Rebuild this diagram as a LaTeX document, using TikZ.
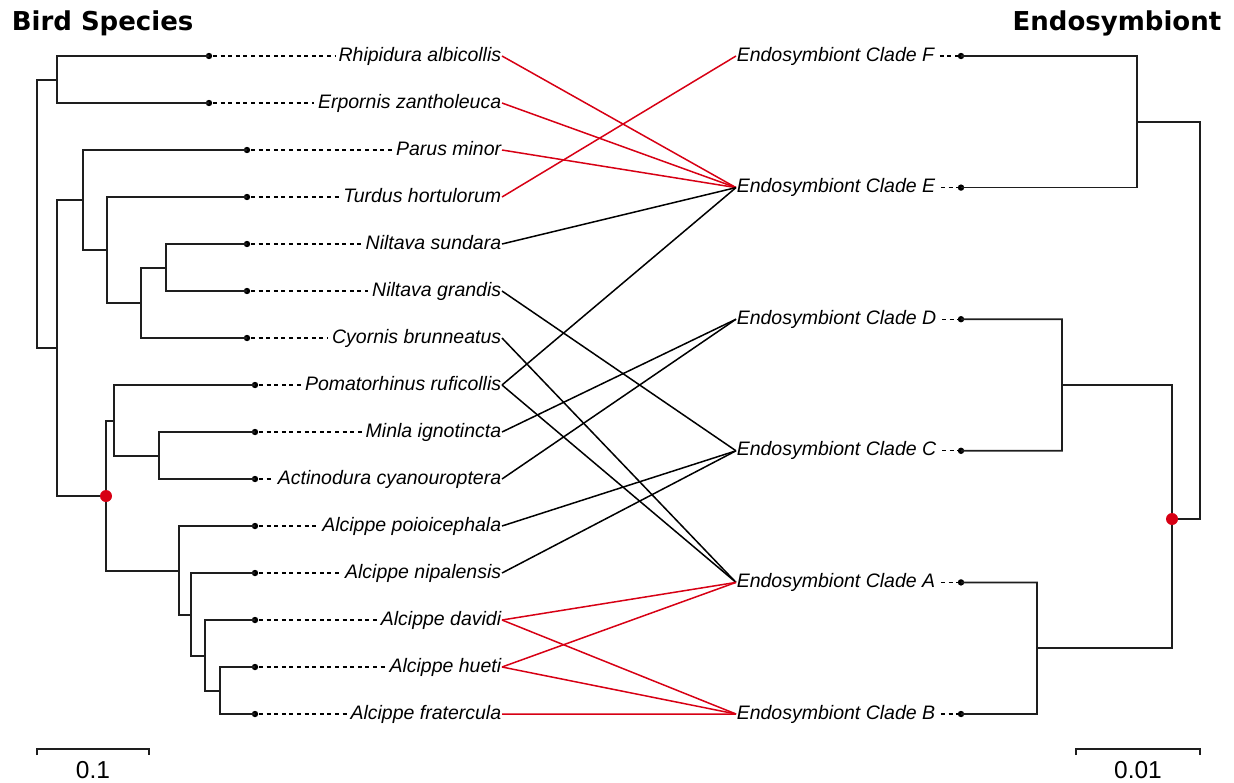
\documentclass[tikz,border=0pt]{standalone}
\usepackage{fontspec}
\setmainfont{Liberation Sans}
\newfontfamily\titlefont{DejaVu Sans}
\usetikzlibrary{positioning}
\definecolor{linkred}{RGB}{215,0,20}
\definecolor{treegray}{RGB}{30,30,30}

\begin{document}
\begin{tikzpicture}[x=1pt,y=-1pt,line width=1.6pt]

	\tikzset{bird lab/.style={anchor=east, inner sep=0pt,
			text height=10pt, text depth=0pt,
			font=\fontsize{19.5}{22}\selectfont\itshape}}
	\tikzset{clade lab/.style={anchor=west, inner sep=0pt,
			text height=10pt, text depth=0pt,
			font=\fontsize{19.5}{22}\selectfont\itshape}}
	\tikzset{title lab/.style={inner sep=0pt,
			font=\titlefont\bfseries\fontsize{26}{30}\selectfont}}
	\tikzset{scale lab/.style={anchor=base, inner sep=0pt,
			font=\fontsize{24.5}{28}\selectfont}}
	\tikzset{tree line/.style={draw=treegray, line width=1.7pt}}
	\tikzset{dot line/.style={draw=black, line width=1.3pt,
			dash pattern=on 4pt off 3.6pt, shorten >=3pt, shorten <=4pt}}
	\tikzset{link/.style={line width=1.5pt}}

	\useasboundingbox (0,0) rectangle (1234,782);

	% titles
	\node[title lab, anchor=base west] (birdT) at (11,30) {Bird Species};
	\node[title lab, anchor=base east] (endoT) at (1222,30) {Endosymbiont};

	% bird species tips and labels
	\foreach \nm/\tx/\txt [count=\i from 0] in {
		rhip/209/Rhipidura albicollis, erp/209/Erpornis zantholeuca,
		parus/247/Parus minor, turd/247/Turdus hortulorum,
		nsun/247/Niltava sundara, ngra/247/Niltava grandis,
		cyor/247/Cyornis brunneatus, pomat/255/Pomatorhinus ruficollis,
		minla/255/Minla ignotincta, actin/255/Actinodura cyanouroptera,
		apoio/255/Alcippe poioicephala, anip/255/Alcippe nipalensis,
		adav/255/Alcippe davidi, ahue/255/Alcippe hueti,
		afra/255/Alcippe fratercula}{
		\coordinate (t\nm) at (\tx,56+47*\i);
		\node[bird lab] (\nm) at (502,56+47*\i) {\txt};
		\draw[dot line] (t\nm) -- (\nm.west);
		\fill (t\nm) circle (3.2pt);
	}

	% endosymbiont tips and labels
	\foreach \nm/\txt [count=\k from 0] in {cF/F, cE/E, cD/D, cC/C, cA/A, cB/B}{
		\coordinate (t\nm) at (961,56+131.6*\k);
		\node[clade lab] (\nm) at (736,56+131.6*\k) {Endosymbiont Clade \txt};
		\draw[dot line, shorten <=5pt] (\nm.east) -- (t\nm);
		\fill (t\nm) circle (3.2pt);
	}

	% bird tree
	\draw[tree line] (trhip) -| (57,103) -- (terp);
	\draw[tree line] (57,80) -| (37,348) -- (57,348);
	\draw[tree line] (83,200) -| (57,496) -- (106,496);
	\draw[tree line] (tparus) -| (83,250) -- (107,250);
	\draw[tree line] (tturd) -| (107,303) -- (141,303);
	\draw[tree line] (166,268) -| (141,338) -- (tcyor);
	\draw[tree line] (tnsun) -| (166,291) -- (tngra);
	\draw[tree line] (114,421) -| (106,571) -- (179,571);
	\draw[tree line] (tpomat) -| (114,456) -- (159,456);
	\draw[tree line] (tminla) -| (159,479) -- (tactin);
	\draw[tree line] (tapoio) -| (179,615) -- (191,615);
	\draw[tree line] (tanip) -| (191,656) -- (205,656);
	\draw[tree line] (tadav) -| (205,691) -- (220,691);
	\draw[tree line] (tahue) -| (220,714) -- (tafra);
	\fill[linkred] (106,496) circle (6pt);

	% endosymbiont tree
	\draw[tree line] (tcF) -| (1137,187.6) -- (tcE);
	\draw[tree line] (1137,122) -| (1200,519) -- (1172,519);
	\draw[tree line] (tcD) -| (1062,450.8) -- (tcC);
	\draw[tree line] (1062,385) -| (1172,648) -- (1037,648);
	\draw[tree line] (tcA) -| (1037,714) -- (tcB);
	\fill[linkred] (1172,519) circle (6pt);

	% scale bars
	\draw[tree line] (37,755) -- (37,749) -- (149,749) -- (149,755);
	\node[scale lab] (sL) at (93,778) {0.1};
	\draw[tree line] (1076,755) -- (1076,749) -- (1200,749) -- (1200,755);
	\node[scale lab] (sR) at (1138,778) {0.01};

	% associations
	\foreach \a/\b/\c in {rhip/cE/linkred, erp/cE/linkred, parus/cE/linkred,
		turd/cF/linkred, nsun/cE/black, ngra/cC/black, cyor/cA/black,
		pomat/cE/black, pomat/cA/black, minla/cD/black, actin/cD/black,
		apoio/cC/black, anip/cC/black, adav/cA/linkred, adav/cB/linkred,
		ahue/cA/linkred, ahue/cB/linkred, afra/cB/linkred}{
		\draw[link, draw=\c] (\a.east) -- (\b.west);
	}
\end{tikzpicture}
\end{document}
